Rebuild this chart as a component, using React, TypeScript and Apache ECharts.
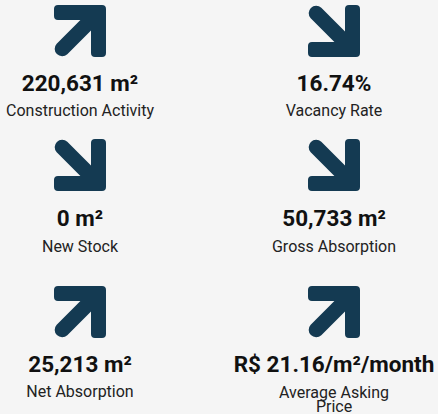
import React, { useEffect, useRef } from "react";
import * as echarts from "echarts";

// ---- Data ----
const metricValues = [
  "220,631 m²",
  "16.74%",
  "0 m²",
  "50,733 m²",
  "25,213 m²",
  "R$ 21.16/m²/month",
];
const metricLabels = [
  "Construction Activity",
  "Vacancy Rate",
  "New Stock",
  "Gross Absorption",
  "Net Absorption",
  "Average Asking\nPrice",
];
const metricTrends = ["up", "down", "down", "down", "up", "up"];

// ---- Layout / style ----
const W = 438;
const H = 414;
const BG = "#f5f5f5";
const ARROW_COLOR = "#143a52";
const COL_X = [80, 334];
const ARROW_Y = [31, 165, 312];
const VALUE_Y = [82.5, 217.5, 364];
const LABEL_Y = [110, 246, 391.5];
const ARROW_SIZE = 52;
const VALUE_FONT = 22.5;
const LABEL_FONT = 16;
const LABEL_LH = 14.5;

// Up-right arrow in a 52x52 box
const ARROW_D =
  "M4,0 H48 Q52,0 52,4 V48 Q52,52 48,52 H41 Q37,52 37,48 V25.6 L13.3,49.3 A7.5,7.5 0 0 1 2.7,38.7 L26.4,15 H4 Q0,15 0,11 V4 Q0,0 4,0 Z";

let registered = false;
function ensureShape() {
  if (registered) return;
  echarts.graphic.registerShape(
    "trendArrow",
    (echarts.graphic as any).extendPath(ARROW_D, {})
  );
  registered = true;
}

export default function App() {
  const ref = useRef<HTMLDivElement>(null);

  useEffect(() => {
    if (!ref.current) return;
    ensureShape();
    document.body.style.margin = "0";
    document.body.style.background = BG;
    const chart = echarts.init(ref.current, null, { renderer: "svg" });

    const elements: any[] = [];
    metricValues.forEach((val, i) => {
      const col = i % 2;
      const row = Math.floor(i / 2);
      const cx = COL_X[col];
      const up = metricTrends[i] === "up";
      const ay = ARROW_Y[row];
      const s = ARROW_SIZE / 52;
      elements.push({
        type: "trendArrow",
        x: cx - ARROW_SIZE / 2,
        y: up ? ay - ARROW_SIZE / 2 : ay + ARROW_SIZE / 2,
        scaleX: s,
        scaleY: up ? s : -s,
        style: { fill: ARROW_COLOR },
      });
      elements.push({
        type: "text",
        x: cx,
        y: VALUE_Y[row],
        style: {
          text: val,
          fill: "#111111",
          fontSize: VALUE_FONT,
          fontWeight: "bold",
          fontFamily: "Roboto",
          align: "center",
          verticalAlign: "middle",
        },
      });
      const label = metricLabels[i];
      const nLines = label.split("\n").length;
      elements.push({
        type: "text",
        x: cx,
        y:
          LABEL_Y[row] +
          (nLines > 1 ? 0.5 + ((nLines - 1) * LABEL_LH) / 2 : 0),
        style: {
          text: label,
          fill: "#222222",
          fontSize: LABEL_FONT,
          fontFamily: "Roboto",
          lineHeight: nLines > 1 ? LABEL_LH : LABEL_FONT * 1.2,
          align: "center",
          verticalAlign: "middle",
        },
      });
    });

    chart.setOption({
      animation: false,
      backgroundColor: BG,
      graphic: { elements },
    });

    return () => chart.dispose();
  }, []);

  return (
    <div
      ref={ref}
      style={{
        position: "fixed",
        left: 0,
        top: 0,
        width: W,
        height: H,
        background: BG,
      }}
    />
  );
}
